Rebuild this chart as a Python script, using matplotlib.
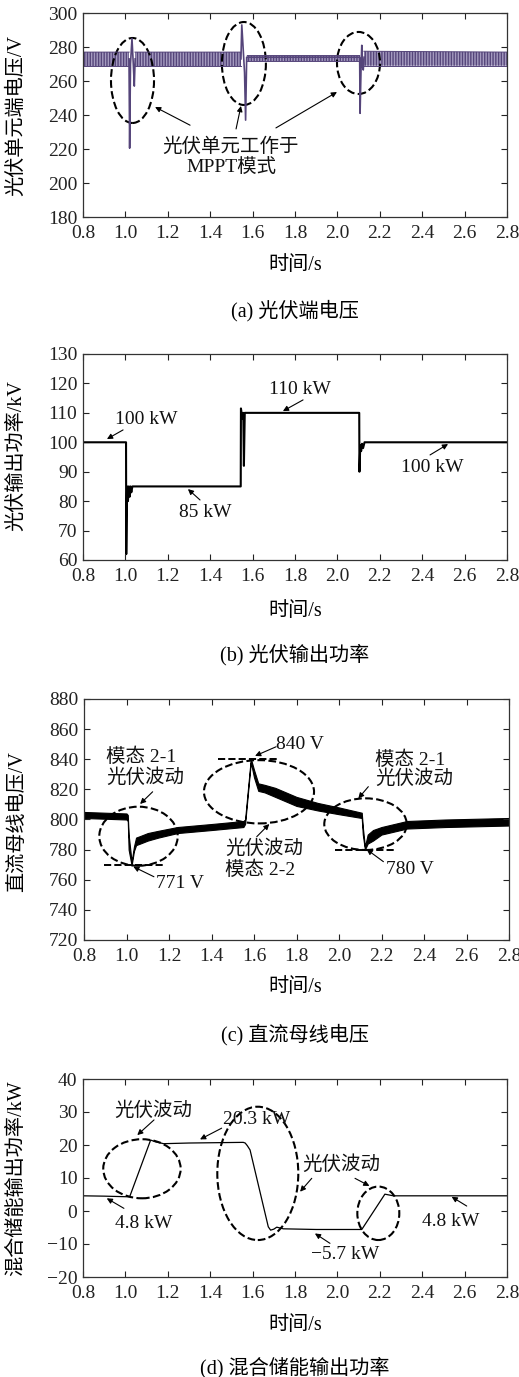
import numpy as np
import matplotlib
matplotlib.use('Agg')
import matplotlib.pyplot as plt
from matplotlib.patches import Ellipse

plt.rcParams['font.family'] = ['Liberation Serif', 'Noto Sans CJK SC']
plt.rcParams['axes.unicode_minus'] = True
plt.rcParams['hatch.linewidth'] = 1.0

nan = np.nan
W, H = 519, 1377

# ---- data ----
x_ticks = [0.8, 1.0, 1.2, 1.4, 1.6, 1.8, 2.0, 2.2, 2.4, 2.6, 2.8]

# (a) PV terminal voltage: ripple envelope + transient trace
t_a_env = [0.80, 1.018, nan, 1.045, 1.545, nan, 1.575, 2.105, nan, 2.125, 2.80]
lo_a = [269, 269, nan, 269, 269, nan, 272, 272, nan, 269, 269]
hi_a = [277, 277, nan, 277, 277, nan, 275, 275, nan, 277.5, 277]
t_a = [1.017, 1.020, 1.024, 1.031, 1.038, 1.042, 1.046, nan,
       1.545, 1.549, 1.562, 1.567, 1.572, 2.105, 2.107, 2.112, 2.115, 2.119, 2.122, 2.126]
v_a = [273, 220.5, 270, 285, 268, 257, 273, nan,
       273, 293, 265, 237, 274, 274, 241, 270, 281, 268, 266.5, 274]

# (b) PV output power
t_b = [0.80, 1.003, 1.004, 1.008, 1.012, 1.016, 1.020, 1.024, 1.028, 1.033,
       1.544, 1.545, 1.552, 1.556, 1.559, 1.563, 2.103, 2.104, 2.108, 2.112,
       2.116, 2.121, 2.128, 2.80]
p_b = [100, 100, 62, 85, 80, 85, 81.5, 85, 83, 85,
       85, 111.5, 108, 110, 92, 110, 110, 90, 99, 97,
       99.5, 98, 100, 100]

# (c) DC bus voltage (ripple band)
t_c = [0.80, 0.90, 1.00, 1.006, 1.010, 1.024, 1.035, 1.045, 1.064, 1.10, 1.15,
       1.24, 1.40, 1.55, 1.558, 1.585, 1.60, 1.62, 1.65, 1.70, 1.80, 1.90, 2.00,
       2.107, 2.112, 2.122, 2.135, 2.16, 2.20, 2.32, 2.50, 2.80]
lo_c = [801, 800.5, 800, 799, 780, 769.5, 779, 783, 784, 786, 788,
        791, 793, 795, 797, 838, 828, 819, 818, 815, 809, 806, 803.5,
        801, 790, 780, 784, 786, 790, 794, 795, 796]
hi_c = [805, 804.5, 804, 803, 790, 772, 782, 788, 789, 791, 792.5,
        795, 797, 799, 800, 840.5, 833, 824, 823, 821, 815, 811, 808,
        804.5, 795, 782, 790, 793, 795, 799, 800, 801]
c_marks = [770, 840, 780]

# (d) hybrid storage output power
t_d = [0.80, 0.90, 1.02, 1.119, 1.14, 1.18, 1.30, 1.556, 1.565, 1.575, 1.588,
       1.674, 1.685, 1.700, 1.714, 1.745, 1.90, 2.115, 2.224, 2.24, 2.264, 2.40, 2.80]
p_d = [4.6, 4.5, 4.3, 21.5, 21.0, 20.4, 20.6, 20.8, 20.6, 19.8, 18.5,
       -4.8, -5.8, -5.5, -4.9, -5.4, -5.6, -5.6, 5.1, 4.9, 4.6, 4.6, 4.6]


def fx(px):
    return px / W


def fy(py):
    return 1 - py / H


fig = plt.figure(figsize=(W / 100, H / 100), dpi=100)
FS = 14


def make_axes(rect, ylim, yticks):
    ax = fig.add_axes(rect)
    ax.set_xlim(0.8, 2.8)
    ax.set_ylim(*ylim)
    ax.set_xticks(x_ticks)
    ax.set_xticklabels(['%.1f' % v for v in x_ticks])
    ax.set_yticks(yticks)
    ax.tick_params(direction='in', top=True, right=True, length=4, width=0.8,
                   labelsize=14, colors='#222')
    ax.tick_params(axis='x', pad=6)
    ax.tick_params(axis='y', pad=4)
    for s in ax.spines.values():
        s.set_color('#333')
        s.set_linewidth(0.9)
    return ax


def arrow(ax, head, tail):
    ax.annotate('', xy=head, xytext=tail,
                arrowprops=dict(arrowstyle='-|>', lw=0.8, color='k',
                                mutation_scale=8, shrinkA=0, shrinkB=0))


def ell(ax, c, w, h):
    ax.add_patch(Ellipse(c, w, h, fill=False, ls='--', lw=1.5, ec='k'))


def note(ax, x, y, s, ha='center'):
    ax.text(x, y, s, ha=ha, va='center', fontsize=FS, color='#111')


def labels(ylab, ycen, xl_y, cap, cap_y):
    fig.text(fx(17), fy(ycen), ylab, rotation=90, ha='center', va='center', fontsize=14.5)
    fig.text(fx(295), fy(xl_y), '时间/s', ha='center', va='center', fontsize=14.5)
    fig.text(fx(295), fy(cap_y), cap, ha='center', va='center', fontsize=14.5)


purple = '#55457a'

# ---- (a) ----
ax = make_axes([83 / W, fy(217), 424 / W, 204 / H], (180, 300), range(180, 301, 20))
ax.fill_between(t_a_env, lo_a, hi_a, facecolor='#a49abf', edgecolor=purple,
                hatch='||||||', linewidth=0)
ax.plot(t_a_env, lo_a, color=purple, lw=0.7)
ax.plot(t_a_env, hi_a, color=purple, lw=0.7)
ax.plot(t_a, v_a, color=purple, lw=1.2)
ell(ax, (1.0335, 260.3), 0.203, 50)
ell(ax, (1.559, 270.3), 0.2075, 48.8)
ell(ax, (2.0996, 270.6), 0.203, 36.5)
note(ax, 1.498, 221.2, '光伏单元工作于')
note(ax, 1.498, 208.8, 'MPPT模式')
arrow(ax, (1.14, 244.7), (1.305, 234))
arrow(ax, (1.545, 245.3), (1.522, 231.8))
arrow(ax, (1.998, 253.5), (1.710, 232.4))
labels('光伏单元端电压/V', 115, 266, '(a) 光伏端电压', 311)

# ---- (b) ----
ax = make_axes([83 / W, fy(560), 424 / W, 206 / H], (60, 130), range(60, 131, 10))
ax.plot(t_b, p_b, color='k', lw=1.5)
note(ax, 1.10, 107.9, '100 kW')
arrow(ax, (0.913, 101.1), (0.989, 104.2))
note(ax, 1.824, 117.8, '110 kW')
arrow(ax, (1.743, 110.6), (1.838, 114.4))
note(ax, 1.375, 76.0, '85 kW')
arrow(ax, (1.295, 84.1), (1.352, 80.4))
note(ax, 2.446, 91.3, '100 kW')
arrow(ax, (2.522, 99.4), (2.437, 95.7))
labels('光伏输出功率/kV', 456, 612, '(b) 光伏输出功率', 655)

# ---- (c) ----
ax = make_axes([84 / W, fy(940), 425 / W, 241 / H], (720, 880), range(720, 881, 20))
ax.fill_between(t_c, lo_c, hi_c, color='k', linewidth=0.8)
ax.hlines(c_marks, [0.894, 1.432, 1.981], [1.173, 1.714, 2.264],
          colors='k', linestyles='--', lw=1.4)
ell(ax, (1.0565, 788.9), 0.369, 39.2)
ell(ax, (1.6235, 818.4), 0.518, 42)
ell(ax, (2.1247, 796.9), 0.388, 34.3)
note(ax, 0.905, 841.7, '模态 2-1', ha='left')
note(ax, 0.905, 827.7, '光伏波动', ha='left')
arrow(ax, (1.064, 810.3), (1.123, 818.4))
note(ax, 1.252, 757.2, '771 V')
arrow(ax, (1.032, 768.7), (1.129, 762))
note(ax, 1.816, 849.5, '840 V')
arrow(ax, (1.605, 842.2), (1.704, 848.3))
note(ax, 1.464, 780.8, '光伏波动', ha='left')
note(ax, 1.464, 766.5, '模态 2-2', ha='left')
arrow(ax, (1.672, 797), (1.613, 788.6))
note(ax, 2.169, 839.5, '模态 2-1', ha='left')
note(ax, 2.169, 827.3, '光伏波动', ha='left')
arrow(ax, (2.091, 814), (2.138, 821.8))
note(ax, 2.334, 766.5, '780 V')
arrow(ax, (2.130, 780.2), (2.209, 772))
labels('直流母线电压/V', 822, 988, '(c) 直流母线电压', 1035)

# ---- (d) ----
ax = make_axes([83 / W, fy(1277), 424 / W, 198 / H], (-20, 40), range(-20, 41, 10))
ax.plot(t_d, p_d, color='k', lw=0.9)
ell(ax, (1.078, 12.8), 0.365, 17.9)
ell(ax, (1.6245, 11.4), 0.382, 40.4)
ell(ax, (2.193, -0.7), 0.198, 16.2)
note(ax, 1.132, 30.4, '光伏波动')
arrow(ax, (1.056, 23.0), (1.135, 27.6))
note(ax, 1.619, 27.6, '20.3 kW')
arrow(ax, (1.352, 21.7), (1.454, 25.1))
note(ax, 1.085, -3.9, '4.8 kW')
arrow(ax, (0.912, 3.85), (0.993, 0.8))
note(ax, 2.020, 14.2, '光伏波动')
arrow(ax, (1.824, 5.85), (1.879, 9.9))
arrow(ax, (2.151, 7.6), (2.083, 9.9))
note(ax, 2.036, -13.3, '\u22125.7 kW')
arrow(ax, (1.894, -6.8), (1.965, -9.8))
note(ax, 2.534, -3.2, '4.8 kW')
arrow(ax, (2.539, 4.3), (2.610, 1.5))
labels('混合储能输出功率/kW', 1178, 1325, '(d) 混合储能输出功率', 1368)

fig.savefig('out.png', dpi=100)
